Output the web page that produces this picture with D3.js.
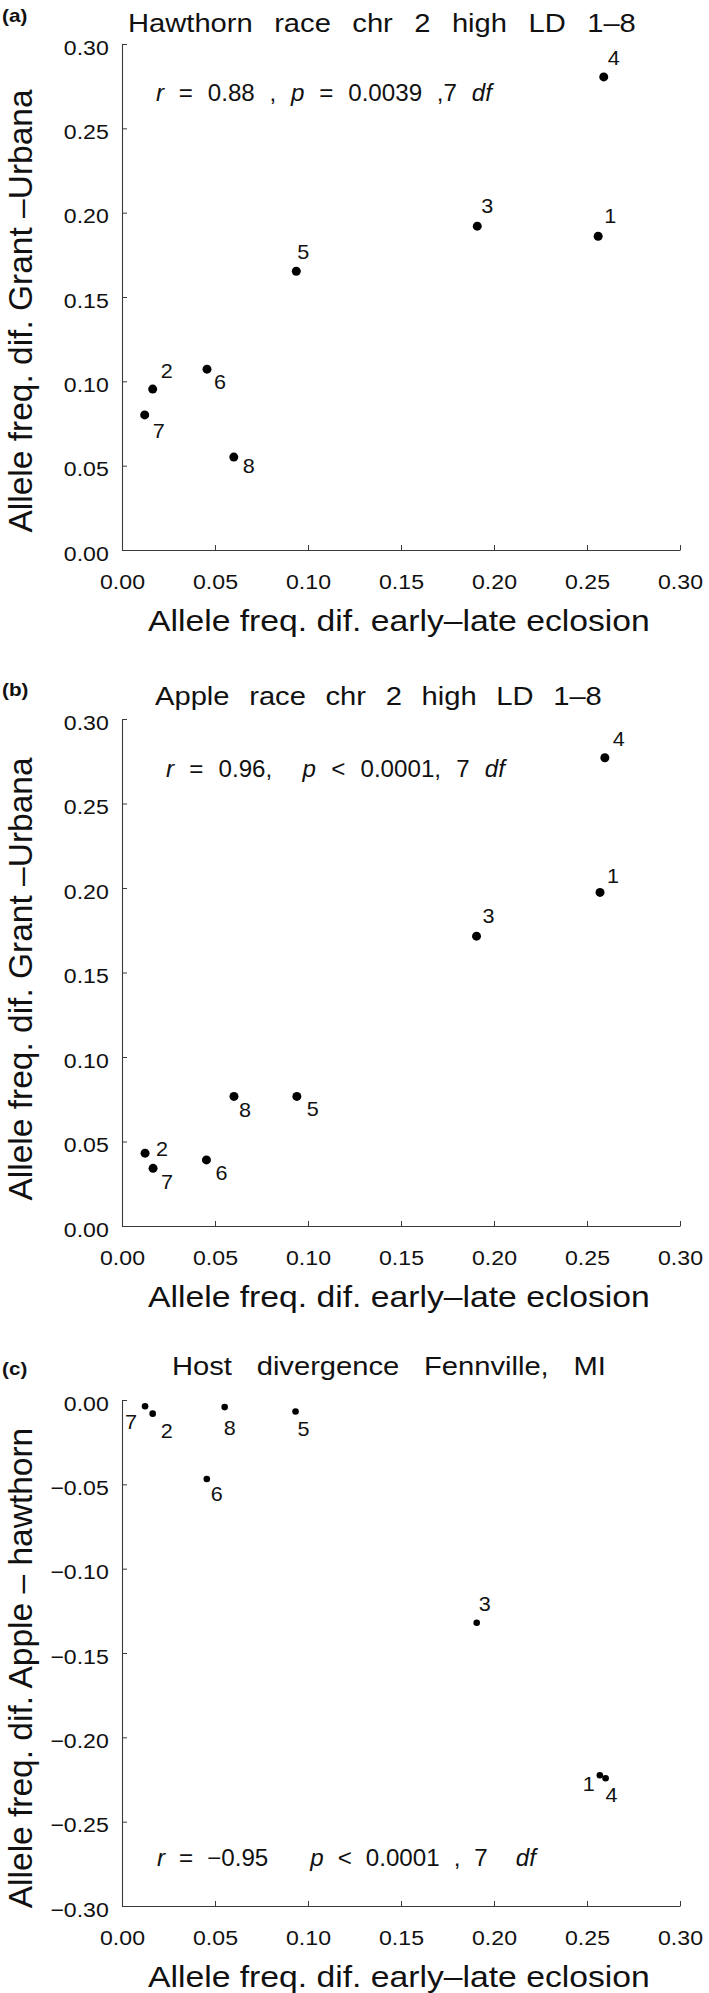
<!DOCTYPE html>
<html><head><meta charset="utf-8">
<script src="https://cdn.jsdelivr.net/npm/d3@7"></script>
<style>
html,body{margin:0;padding:0;background:#fff;}
svg{display:block;font-family:"Liberation Sans",Arial,Helvetica,sans-serif;}
</style></head><body>
<svg id="chart" width="709" height="1993"></svg>
<script>
// ---------------- DATA ----------------
const pointIds = ["1","2","3","4","5","6","7","8"];
// (a) Hawthorn race chr 2 high LD
const hawthornX = [0.256, 0.0165, 0.191, 0.259, 0.0937, 0.0457, 0.0122, 0.0601];
const hawthornY = [0.186, 0.0954, 0.192, 0.2805, 0.1653, 0.1072, 0.0801, 0.0551];
// (b) Apple race chr 2 high LD
const appleX = [0.257, 0.0124, 0.1906, 0.2596, 0.094, 0.0454, 0.0167, 0.0602];
const appleY = [0.1974, 0.0431, 0.1715, 0.2771, 0.0767, 0.0391, 0.0341, 0.0767];
// (c) Host divergence Fennville, MI
const fennX = [0.2569, 0.0165, 0.1907, 0.2600, 0.0933, 0.0456, 0.0124, 0.0552];
const fennY = [-0.2225, -0.0081, -0.1321, -0.2243, -0.0068, -0.0468, -0.0037, -0.0042];

const xTicks = [0, 0.05, 0.10, 0.15, 0.20, 0.25, 0.30];
const yTicksPos = [0, 0.05, 0.10, 0.15, 0.20, 0.25, 0.30];
const yTicksNeg = [0, -0.05, -0.10, -0.15, -0.20, -0.25, -0.30];

const panelLetters = ["(a)", "(b)", "(c)"];
const titles = ["Hawthorn race chr 2 high LD 1\u20138",
                "Apple race chr 2 high LD 1\u20138",
                "Host divergence Fennville, MI"];
const yLabels = ["Allele freq. dif. Grant \u2013Urbana",
                 "Allele freq. dif. Grant \u2013Urbana",
                 "Allele freq. dif. Apple \u2013 hawthorn"];
const xLabel = "Allele freq. dif. early\u2013late eclosion";
const statsA = [["r", true], [" = 0.88 , ", false], ["p", true], [" = 0.0039 ,7 ", false], ["df", true]];
const statsB = [["r", true], [" = 0.96,  ", false], ["p", true], [" < 0.0001, 7 ", false], ["df", true]];
const statsC = [["r", true], [" = \u22120.95   ", false], ["p", true], [" < 0.0001 , 7  ", false], ["df", true]];

// ---------------- LAYOUT ----------------
const X0 = 122, X1 = 680;
const panels = [
  {xs: hawthornX, ys: hawthornY, yDomain: [0, 0.30], yTicks: yTicksPos, top: 44, bottom: 550,
   letterY: 22, titleY: 32, titleX: [128, 636], stats: statsA, statsY: 101, statsX: [156, 492],
   yLabelCY: 311, r: 4.5,
   lab: [[12,-20],[14,-18],[10,-20],[10,-19],[7,-19],[13,13],[14,16],[15,9]]},
  {xs: appleX, ys: appleY, yDomain: [0, 0.30], yTicks: yTicksPos, top: 719, bottom: 1226,
   letterY: 696, titleY: 705, titleX: [155, 602], stats: statsB, statsY: 777, statsX: [166, 505],
   yLabelCY: 979, r: 4.5,
   lab: [[13,-16],[17,-4],[12,-20],[14,-19],[16,13],[15,13],[14,14],[11,14]]},
  {xs: fennX, ys: fennY, yDomain: [-0.30, 0], yTicks: yTicksNeg, top: 1400, bottom: 1906,
   letterY: 1375, titleY: 1375, titleX: [172, 606], stats: statsC, statsY: 1866, statsX: [157, 536],
   yLabelCY: 1668, r: 3.3,
   lab: [[-11,9],[14,17],[8,-19],[6,17],[8,18],[10,15],[-14,16],[5,21]]}
];

const svg = d3.select("#chart");
const fmt = d3.format(".2f");
const axisColor = "#3a3a3a";
const textColor = "#111";

function fitWords(textSel, x0, x1, y, sx) {
  const node = textSel.node();
  const str = node.textContent;
  const nSp = (str.match(/ /g) || []).length;
  const len = node.getComputedTextLength();
  const target = (x1 - x0) / sx;
  const ws = nSp > 0 ? (target - len) / nSp : 0;
  textSel.attr("word-spacing", ws);
  textSel.attr("transform", `translate(${x0},${y}) scale(${sx},1)`);
}
function fitScale(textSel, x0, x1, y) {
  const len = textSel.node().getComputedTextLength();
  const s = (x1 - x0) / len;
  textSel.attr("transform", `translate(${x0},${y}) scale(${s},1)`);
}

panels.forEach((p, i) => {
  const x = d3.scaleLinear().domain([0, 0.30]).range([X0, X1]);
  const y = d3.scaleLinear().domain(p.yDomain).range([p.bottom, p.top]);
  const g = svg.append("g");

  g.append("text").text(panelLetters[i])
    .attr("font-size", 18).attr("font-weight", "bold").attr("fill", textColor)
    .attr("transform", `translate(2,${p.letterY}) scale(1.15,1)`);

  const t = g.append("text").text(titles[i])
    .attr("font-size", 26.5).attr("fill", textColor).style("white-space", "pre");
  fitWords(t, p.titleX[0], p.titleX[1], p.titleY, 1.1);

  const xAxis = d3.axisBottom(x).tickValues(xTicks).tickFormat(fmt)
    .tickSizeInner(-5).tickSizeOuter(0).tickPadding(24);
  const yAxis = d3.axisLeft(y).tickValues(p.yTicks).tickFormat(fmt)
    .tickSizeInner(-5).tickSizeOuter(0).tickPadding(12);

  const xg = g.append("g").attr("transform", `translate(0,${p.bottom})`).call(xAxis);
  const yg = g.append("g").attr("transform", `translate(${X0},0)`).call(yAxis);
  [xg, yg].forEach(a => {
    a.attr("font-family", null).attr("font-size", null);
    a.select(".domain").attr("stroke", axisColor).attr("stroke-width", 1.1);
    a.selectAll(".tick line").attr("stroke", axisColor).attr("stroke-width", 1);
    a.selectAll(".tick text").attr("font-size", 21).attr("fill", textColor);
  });
  xg.selectAll(".tick text").attr("transform", `scale(1.1,1)`);
  yg.selectAll(".tick text").attr("dy", "0.48em").attr("transform", `scale(1.1,1)`);

  const xl = g.append("text").text(xLabel).attr("font-size", 30).attr("fill", textColor);
  fitScale(xl, 148, 650, p.bottom + 81);

  g.append("text").text(yLabels[i])
    .attr("font-size", 33.5).attr("fill", textColor).attr("text-anchor", "middle")
    .attr("transform", `translate(32,${p.yLabelCY}) rotate(-90)`);

  const st = g.append("text").attr("font-size", 23).attr("fill", textColor).style("white-space", "pre");
  p.stats.forEach(([s, it]) => {
    st.append("tspan").text(s).attr("font-style", it ? "italic" : null);
  });
  fitWords(st, p.statsX[0], p.statsX[1], p.statsY, 1.05);

  const pts = pointIds.map((id, k) => ({id, vx: p.xs[k], vy: p.ys[k], off: p.lab[k]}));
  g.selectAll("circle.pt").data(pts).join("circle").attr("class", "pt")
    .attr("cx", d => x(d.vx)).attr("cy", d => y(d.vy)).attr("r", p.r).attr("fill", "#000");
  g.selectAll("text.lbl").data(pts).join("text").attr("class", "lbl")
    .text(d => d.id).attr("font-size", 20).attr("fill", textColor)
    .attr("text-anchor", "middle").attr("dy", "0.35em")
    .attr("transform", d => `translate(${x(d.vx) + d.off[0]},${y(d.vy) + d.off[1]}) scale(1.08,1)`);
});
</script>
</body></html>
